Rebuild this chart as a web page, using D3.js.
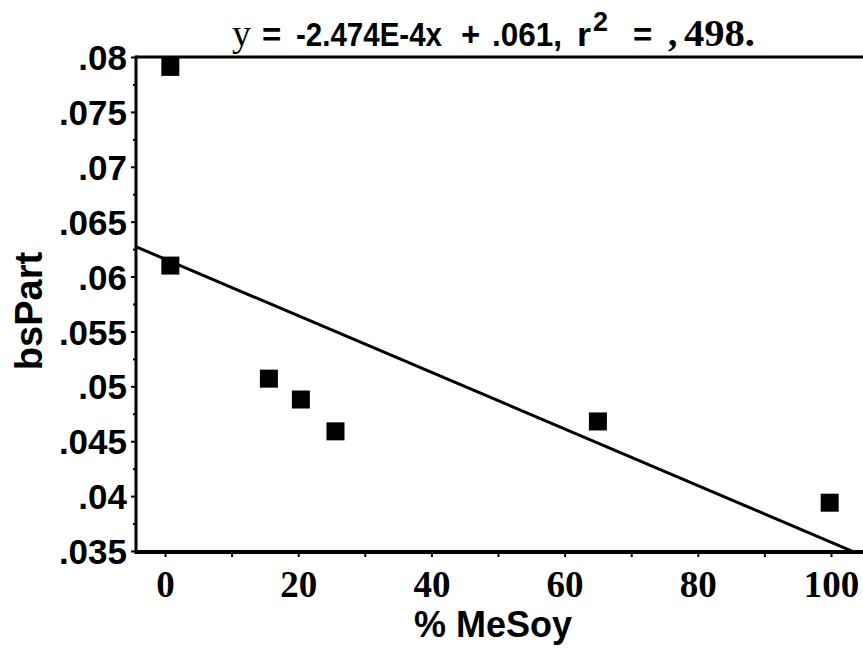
<!DOCTYPE html>
<html>
<head>
<title>bsPart vs % MeSoy</title>
<style>
  body { margin: 0; background: #fff; }
  .ylab { font: bold 35px "Liberation Sans", Arial, sans-serif; }
  .xlab { font: bold 37px "Liberation Serif", "Times New Roman", serif; }
  .axtitle { font: bold 36px "Liberation Sans", Arial, sans-serif; }
  .eqs { font: bold 33px "Liberation Sans", Arial, sans-serif; }
  .eqr { font: 38px "Liberation Serif", "Times New Roman", serif; }
  .eqrb { font: bold 37px "Liberation Serif", "Times New Roman", serif; }
</style>
<script src="https://d3js.org/d3.v7.min.js"></script>
</head>
<body>
<svg width="863" height="652"></svg>
<script>
// data
var pctMeSoy = [0.8, 0.8, 15.6, 20.4, 25.6, 65, 99.8];
var bsPart   = [0.0791, 0.0610, 0.0507, 0.0488, 0.0459, 0.0468, 0.0394];

// fitted line as drawn (ends of the line)
var fitX = [-4.3, 103.5];
var fitY = [0.0627, 0.0349];

var xTicks = [0, 20, 40, 60, 80, 100];
var xMinor = [0, 10, 20, 30, 40, 50, 60, 70, 80, 90, 100];
var yTicks = [0.035, 0.04, 0.045, 0.05, 0.055, 0.06, 0.065, 0.07, 0.075, 0.08];
var yTickLabels = [".035", ".04", ".045", ".05", ".055", ".06", ".065", ".07", ".075", ".08"];
var yMinor = [0.0375, 0.0425, 0.0475, 0.0525, 0.0575, 0.0625, 0.0675, 0.0725, 0.0775];

var svg = d3.select("svg");

var x = d3.scaleLinear().domain([0, 100]).range([165, 831]);
var y = d3.scaleLinear().domain([0.035, 0.08]).range([551, 57]);

var pLeft = 136, pRight = 863, pTop = y(0.08), pBottom = 552;

// frame: top line, left axis, bottom axis
svg.append("line").attr("x1", pLeft).attr("x2", pRight).attr("y1", pTop).attr("y2", pTop)
   .attr("stroke", "#000").attr("stroke-width", 3);
svg.append("line").attr("x1", pLeft).attr("x2", pLeft).attr("y1", pTop - 1.5).attr("y2", pBottom + 2)
   .attr("stroke", "#000").attr("stroke-width", 3);
svg.append("line").attr("x1", pLeft - 1.5).attr("x2", pRight).attr("y1", pBottom).attr("y2", pBottom)
   .attr("stroke", "#000").attr("stroke-width", 4);

// y axis ticks
var yAxis = svg.append("g").attr("transform", "translate(" + pLeft + ",0)")
   .call(d3.axisLeft(y).tickValues(yTicks).tickSize(5).tickPadding(4)
         .tickFormat(function(d, i) { return yTickLabels[i]; }));
yAxis.select(".domain").remove();
yAxis.selectAll("line").attr("stroke-width", 2);
yAxis.selectAll("text").attr("class", "ylab").attr("fill", "#000").attr("dy", "0.36em");

var yAxisMinor = svg.append("g").attr("transform", "translate(" + pLeft + ",0)")
   .call(d3.axisLeft(y).tickValues(yMinor).tickSize(3).tickFormat(""));
yAxisMinor.select(".domain").remove();
yAxisMinor.selectAll("line").attr("stroke-width", 2);

// x axis ticks
var xAxisMinor = svg.append("g").attr("transform", "translate(0," + pBottom + ")")
   .call(d3.axisBottom(x).tickValues(xMinor).tickSize(5).tickFormat(""));
xAxisMinor.select(".domain").remove();
xAxisMinor.selectAll("line").attr("stroke-width", 2);

var xAxis = svg.append("g").attr("transform", "translate(0," + pBottom + ")")
   .call(d3.axisBottom(x).tickValues(xTicks).tickSize(0).tickPadding(19));
xAxis.select(".domain").remove();
xAxis.selectAll("text").attr("class", "xlab").attr("fill", "#000");

// fitted line
svg.append("line")
   .attr("x1", x(fitX[0])).attr("y1", y(fitY[0]))
   .attr("x2", x(fitX[1])).attr("y2", y(fitY[1]))
   .attr("stroke", "#000").attr("stroke-width", 3);

// points
var sz = 18;
svg.selectAll(".pt").data(pctMeSoy).enter().append("rect")
   .attr("class", "pt")
   .attr("x", function(d) { return x(d) - sz / 2; })
   .attr("y", function(d, i) { return y(bsPart[i]) - sz / 2; })
   .attr("width", sz).attr("height", sz)
   .attr("fill", "#000");

// axis titles
svg.append("text").attr("class", "axtitle")
   .attr("x", 493).attr("y", 637).attr("text-anchor", "middle")
   .text("% MeSoy");

svg.append("text").attr("class", "axtitle")
   .attr("transform", "translate(42,311) rotate(-90)")
   .attr("text-anchor", "middle")
   .style("font-size", "38px")
   .text("bsPart");

// equation title, mixed fonts as in the original
var eqBase = 46;
var eqParts = [
  { t: "y", c: "eqr", x: 232 },
  { t: "=", c: "eqs", x: 262 },
  { t: "-2.474E-4x", c: "eqs", x: 296, w: 146 },
  { t: "+", c: "eqs", x: 461 },
  { t: ".061,", c: "eqs", x: 492, w: 70 },
  { t: "r", c: "eqs", x: 577, w: 14 },
  { t: "=", c: "eqs", x: 633 },
  { t: ",", c: "eqrb", x: 668 },
  { t: "498.", c: "eqrb", x: 684, w: 71 }
];
eqParts.forEach(function(p) {
  var el = svg.append("text").attr("class", p.c)
     .attr("x", p.x).attr("y", eqBase).text(p.t);
  if (p.w) el.attr("textLength", p.w).attr("lengthAdjust", "spacingAndGlyphs");
});
svg.append("text").attr("class", "eqs").style("font-size", "27px")
   .attr("x", 593).attr("y", eqBase - 15).text("2");
</script>
</body>
</html>
